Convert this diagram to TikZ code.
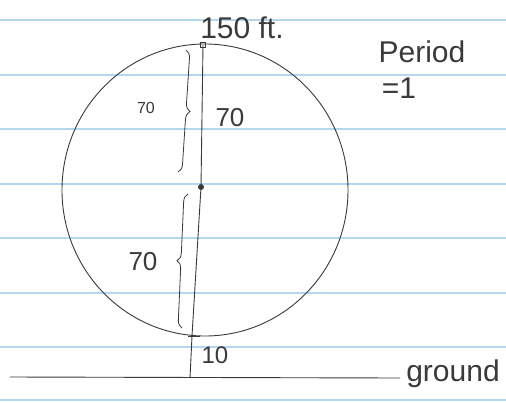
\documentclass[tikz,border=0pt]{standalone}
\usepackage{fontspec}
\setmainfont{Liberation Sans}
\usetikzlibrary{shapes.geometric,decorations.pathreplacing}
\definecolor{ruled}{HTML}{B3D8EE}
\definecolor{pencil}{HTML}{3A3A3A}
\tikzset{
  ruleline/.style={ruled, line width=1.3pt},
  pen/.style={pencil, line width=0.9pt},
  hand/.style={pencil, inner sep=0pt, anchor=center},
  bracepath/.style={pencil, line width=0.8pt, decorate, decoration={brace, amplitude=8pt}}
}
\begin{document}
\begin{tikzpicture}[x=1pt,y=-1pt]
\useasboundingbox (0,0) rectangle (506,402);
\fill[white] (0,0) rectangle (506,402);
% ruled paper
\foreach \yy in {20,75,129,184,238,293,347,400}
  \draw[ruleline] (0,\yy) -- (506,\yy);
% wheel
\node[pen, draw, ellipse, minimum width=286pt, minimum height=292pt, inner sep=0pt] (wheel) at (205,190) {};
% key points
\coordinate (top) at (203,45);
\coordinate (hub) at (201,187);
\coordinate (low) at (192,336);
\coordinate (foot) at (190,378);
\coordinate (gl) at (10,377);
\coordinate (gr) at (400,378);
% axis
\draw[pen] (top) -- (hub) -- (low) -- (foot);
\draw[pen] (gl) -- (gr);
\draw[pen] ([xshift=-4pt]low) -- ([xshift=8pt]low);
\node[pen, draw, minimum size=5pt, inner sep=0pt] (topmark) at (top) {};
\node[pen, fill, circle, minimum size=6pt, inner sep=0pt] (hubmark) at (hub) {};
% braces
\coordinate (b1a) at (186,50);
\coordinate (b1b) at (178,172);
\draw[bracepath] (b1a) -- (b1b);
\coordinate (b2a) at (182,328);
\coordinate (b2b) at (188,194);
\draw[bracepath] (b2a) -- (b2b);
% labels
\node[hand, font=\fontsize{30}{32}\selectfont] (l150) at (242,28) {150 ft.};
\node[hand, font=\fontsize{30}{32}\selectfont] (lper) at (422,52) {Period};
\node[hand, font=\fontsize{30}{32}\selectfont] (leq) at (399,88) {=1};
\node[hand, font=\fontsize{16}{18}\selectfont] (l70a) at (146,108) {70};
\node[hand, font=\fontsize{26}{28}\selectfont] (l70b) at (230,118) {70};
\node[hand, font=\fontsize{26}{28}\selectfont] (l70c) at (143,262) {70};
\node[hand, font=\fontsize{24}{26}\selectfont] (l10) at (215,355) {10};
\node[hand, font=\fontsize{30}{32}\selectfont] (lground) at (453,374) {ground};
\end{tikzpicture}
\end{document}
